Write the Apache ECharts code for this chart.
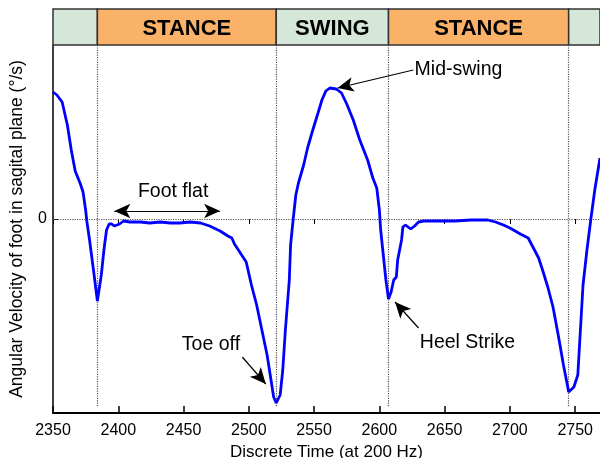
<!DOCTYPE html>
<html>
<head>
<meta charset="utf-8">
<script src="https://cdn.jsdelivr.net/npm/echarts@6/dist/echarts.min.js"></script>
<style>
  html, body { margin: 0; padding: 0; background: #fff; }
  #main { width: 600px; height: 458px; }
</style>
</head>
<body>
<div id="main"></div>
<script>
// discrete time samples (200 Hz) and angular velocity (deg/s)
const time = [2350, 2353, 2357, 2361, 2364, 2367, 2371, 2373, 2375, 2376, 2378, 2381, 2384,
  2387, 2389, 2391, 2393, 2395, 2397, 2401, 2404, 2409, 2417, 2424, 2432, 2440, 2447, 2455,
  2463, 2470, 2478, 2484, 2487, 2489, 2493, 2498, 2502, 2506, 2510, 2514, 2517, 2519, 2521,
  2524, 2526, 2528, 2531, 2532, 2534, 2536, 2538, 2542, 2545, 2549, 2553, 2556, 2559, 2562,
  2567, 2571, 2575, 2580, 2585, 2591, 2595, 2598, 2600, 2601, 2603, 2605, 2607, 2609, 2611,
  2613, 2614, 2617, 2618, 2620, 2624, 2627, 2630, 2634, 2647, 2658, 2670, 2683, 2689, 2695,
  2700, 2708, 2714, 2718, 2722, 2725, 2729, 2733, 2737, 2741, 2744, 2745, 2749, 2752, 2754,
  2756, 2759, 2762, 2765, 2769];
const angVel = [254, 248, 234, 188, 138, 96, 70, 54, 18, -6, -42, -102, -164,
  -112, -62, -22, -10, -10, -14, -10, -4, -6, -6, -8, -6, -8, -8, -6,
  -8, -14, -24, -34, -38, -50, -66, -86, -132, -172, -222, -272, -322, -356, -368,
  -352, -302, -222, -122, -52, 0, 48, 72, 108, 142, 178, 212, 238, 256, 262,
  260, 252, 230, 198, 158, 118, 82, 62, 18, -22, -72, -122, -160, -146, -122,
  -116, -82, -42, -16, -12, -20, -14, -6, -4, -4, -4, -2, -2, -6, -12,
  -18, -30, -38, -58, -78, -102, -136, -176, -232, -292, -332, -346, -336, -312, -222,
  -132, -62, 0, 58, 122];

const xTicks = [2350, 2400, 2450, 2500, 2550, 2600, 2650, 2700, 2750];
const xMin = 2350, xMax = 2769;
const yMin = -388, yMax = 348;

// gait phases shown in the band on top
const phaseEdges = [2350, 2384, 2521, 2607, 2745, 2769];
const phaseNames = ['', 'STANCE', 'SWING', 'STANCE', ''];
const eventTimes = [2384, 2521, 2607, 2745];

// annotations
const noteText = ['Foot flat', 'Mid-swing', 'Toe off', 'Heel Strike'];
const noteX = [2442, 2627, 2471, 2631];
const noteY = [54, 298, -252, -248];
const noteAlign = ['center', 'left', 'center', 'left'];
const arrowFrom = [[2442, 16], [2626, 298], [2495, -276], [2630, -218]];
const arrowTo = [[2397, 16], [2568, 262], [2513, -330], [2612, -166]];

const FONT = 'Liberation Sans, Arial, sans-serif';
const GREEN = '#d5e7d9', ORANGE = '#fab269';

const myChart = echarts.init(document.getElementById('main'));

const phaseAreas = phaseNames.map((name, i) => [
  {
    xAxis: phaseEdges[i],
    name: name,
    itemStyle: { color: name === 'STANCE' ? ORANGE : GREEN, opacity: 1 }
  },
  { xAxis: phaseEdges[i + 1] }
]);

const eventLines = eventTimes.map(t => [
  { coord: [t, yMax] },
  { coord: [t, -376] }
]);

const arrowLines = arrowFrom.map((p, i) => [
  { coord: p },
  { coord: arrowTo[i] }
]);
// foot flat arrow is double headed
arrowLines[0] = [
  { coord: [2478, 16], symbol: 'arrow' },
  { coord: arrowTo[0] }
];

myChart.setOption({
  animation: false,
  textStyle: { fontFamily: FONT },
  grid: [
    { left: 53, right: 0, top: 45, bottom: 45, outerBoundsMode: 'none' },
    { left: 53, right: 0, top: 9, height: 36, outerBoundsMode: 'none' }
  ],
  xAxis: [
    {
      type: 'value', gridIndex: 0, min: xMin, max: xMax, interval: 50,
      name: 'Discrete Time (at 200 Hz)', nameLocation: 'middle', nameGap: 25,
      nameTextStyle: { fontSize: 17, color: '#000', fontFamily: FONT },
      axisLine: { show: true, onZero: false, lineStyle: { color: '#000', width: 2 } },
      axisTick: { inside: true, length: 7, customValues: xTicks, lineStyle: { color: '#000', width: 1.5 } },
      axisLabel: {
        customValues: xTicks, fontSize: 16, color: '#000', margin: 10, fontFamily: FONT,
        formatter: v => String(v)
      },
      splitLine: { show: false }
    },
    {
      type: 'value', gridIndex: 0, position: 'top', min: xMin, max: xMax, interval: 50,
      axisLine: { show: false },
      axisTick: { inside: true, length: 5, customValues: xTicks, lineStyle: { color: '#000', width: 1 } },
      axisLabel: { show: false },
      splitLine: { show: false }
    },
    { type: 'value', gridIndex: 1, min: xMin, max: xMax, show: false }
  ],
  yAxis: [
    {
      type: 'value', gridIndex: 0, min: yMin, max: yMax,
      name: 'Angular Velocity of foot in sagital plane (°/s)',
      nameLocation: 'middle', nameGap: 27,
      nameTextStyle: { fontSize: 17.5, color: '#000', fontFamily: FONT },
      axisLine: { show: true, onZero: false, lineStyle: { color: '#000', width: 1.5 } },
      axisTick: { inside: true, length: 6, customValues: [0], lineStyle: { color: '#000' } },
      axisLabel: { customValues: [0], fontSize: 16, color: '#000', margin: 6, fontFamily: FONT },
      splitLine: { show: false }
    },
    { type: 'value', gridIndex: 1, min: 0, max: 1, show: false }
  ],
  series: [
    {
      name: 'phases',
      type: 'line',
      xAxisIndex: 2,
      yAxisIndex: 1,
      data: [],
      silent: true,
      markArea: {
        silent: true,
        itemStyle: { borderColor: '#333', borderWidth: 1.5 },
        label: {
          show: true, position: 'inside', offset: [0, 2],
          fontSize: 22, fontWeight: 'bold', color: '#000', fontFamily: FONT
        },
        data: phaseAreas
      }
    },
    {
      name: 'angular velocity',
      type: 'line',
      xAxisIndex: 0,
      yAxisIndex: 0,
      data: time.map((t, i) => [t, angVel[i]]),
      showSymbol: false,
      lineStyle: { color: '#0000ff', width: 2.8 },
      z: 5,
      markLine: {
        silent: true,
        symbol: 'none',
        label: { show: false },
        lineStyle: { color: '#555', type: 'dotted', width: 1.2 },
        data: [{ yAxis: 0 }].concat(eventLines)
      }
    },
    {
      name: 'arrows',
      type: 'line',
      xAxisIndex: 0,
      yAxisIndex: 0,
      data: [],
      z: 6,
      markLine: {
        silent: true,
        symbol: ['none', 'arrow'],
        symbolSize: [11, 16],
        label: { show: false },
        lineStyle: { color: '#000', type: 'solid', width: 1.2 },
        data: arrowLines
      }
    },
    {
      name: 'notes',
      type: 'scatter',
      xAxisIndex: 0,
      yAxisIndex: 0,
      symbolSize: 0,
      z: 7,
      data: noteText.map((txt, i) => ({
        value: [noteX[i], noteY[i]],
        label: {
          show: true,
          formatter: txt,
          position: noteAlign[i] === 'left' ? 'right' : 'inside',
          distance: 0,
          fontSize: 19.5,
          color: '#000',
          opacity: 1,
          fontFamily: FONT
        }
      }))
    }
  ]
});
</script>
</body>
</html>
